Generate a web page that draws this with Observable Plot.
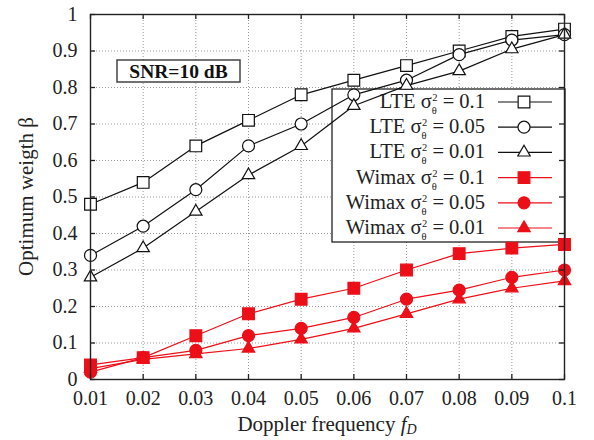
<!DOCTYPE html>
<html><head><meta charset="utf-8">
<script src="https://cdn.jsdelivr.net/npm/d3@7"></script>
<script src="https://cdn.jsdelivr.net/npm/@observablehq/plot@0.6"></script>
<style>body{margin:0;background:#fff} svg{font-family:"Liberation Serif",serif}</style>
</head><body><div id="chart"></div>
<script>
// Doppler frequency (x categories)
const fd = [0.01, 0.02, 0.03, 0.04, 0.05, 0.06, 0.07, 0.08, 0.09, 0.1];
// Optimum weight beta per series
const lte01    = [0.48, 0.54, 0.64, 0.71, 0.78, 0.82, 0.86, 0.90, 0.94, 0.96];
const lte005   = [0.34, 0.42, 0.52, 0.64, 0.70, 0.78, 0.82, 0.89, 0.93, 0.945];
const lte001   = [0.28, 0.36, 0.46, 0.56, 0.64, 0.75, 0.805, 0.845, 0.905, 0.945];
const wimax01  = [0.04, 0.06, 0.12, 0.18, 0.22, 0.25, 0.30, 0.345, 0.36, 0.37];
const wimax005 = [0.02, 0.06, 0.08, 0.12, 0.14, 0.17, 0.22, 0.245, 0.28, 0.30];
const wimax001 = [0.03, 0.055, 0.07, 0.085, 0.11, 0.14, 0.18, 0.22, 0.25, 0.27];
// tick labels
const xTicks = [0.01, 0.02, 0.03, 0.04, 0.05, 0.06, 0.07, 0.08, 0.09, 0.1];
const yTicks = [0, 0.1, 0.2, 0.3, 0.4, 0.5, 0.6, 0.7, 0.8, 0.9, 1];
const xTickLabels = ["0.01","0.02","0.03","0.04","0.05","0.06","0.07","0.08","0.09","0.1"];
const yTickLabels = ["0","0.1","0.2","0.3","0.4","0.5","0.6","0.7","0.8","0.9","1"];
const seriesNames = ["LTE","LTE","LTE","Wimax","Wimax","Wimax"];
const sigmaLabels = ["0.1","0.05","0.01","0.1","0.05","0.01"];
const xLabel = "Doppler frequency ";
const yLabel = "Optimum weigth β";
const boxLabel = "SNR=10 dB";

const RED = "#ec0f18";
const series = [
  {values: lte01,    color: "#111", symbol: "square",   fill: "white", r: 6.6},
  {values: lte005,   color: "#111", symbol: "circle",   fill: "white", r: 6},
  {values: lte001,   color: "#111", symbol: "triangle", fill: "white", r: 4.6},
  {values: wimax01,  color: RED,    symbol: "square",   fill: RED,     r: 6.6},
  {values: wimax005, color: RED,    symbol: "circle",   fill: RED,     r: 6},
  {values: wimax001, color: RED,    symbol: "triangle", fill: RED,     r: 4.6}
].map((s, i) => ({...s, name: seriesNames[i], s2: sigmaLabels[i]}));

const W = 594, H = 440, mL = 90, mR = 30, mT = 14, mB = 61;
const pw = W - mL - mR, ph = H - mT - mB;
const AX = "#222";

const marks = [
  Plot.gridX(xTicks, {stroke: "#999", strokeOpacity: 1, strokeWidth: 1, strokeDasharray: "1,2"}),
  Plot.gridY(yTicks, {stroke: "#999", strokeOpacity: 1, strokeWidth: 1, strokeDasharray: "1,2"})
];
for (const s of series) {
  marks.push(Plot.line(s.values, {x: (d, i) => fd[i], y: d => d, stroke: s.color, strokeWidth: 1.2}));
}
for (const s of series) {
  marks.push(Plot.dot(s.values, {x: (d, i) => fd[i], y: d => d, symbol: s.symbol, r: s.r,
    fill: s.fill, stroke: s.color, strokeWidth: 1.2}));
}
marks.push(
  Plot.frame({stroke: AX, strokeWidth: 1.4}),
  Plot.ruleX(xTicks, {x: d => d, insetTop: ph - 5, stroke: AX, strokeWidth: 1.3}),
  Plot.ruleX(xTicks, {x: d => d, insetBottom: ph - 5, stroke: AX, strokeWidth: 1.3}),
  Plot.ruleY(yTicks, {y: d => d, insetRight: pw - 5, stroke: AX, strokeWidth: 1.3}),
  Plot.ruleY(yTicks, {y: d => d, insetLeft: pw - 5, stroke: AX, strokeWidth: 1.3}),
  Plot.axisX(xTicks, {tickSize: 0, tickPadding: 11, label: null, fontSize: 20,
    tickFormat: d => xTickLabels[xTicks.indexOf(d)]}),
  Plot.axisY(yTicks, {tickSize: 0, tickPadding: 13, label: null, fontSize: 20,
    tickFormat: d => yTickLabels[yTicks.indexOf(d)]})
);

const plot = Plot.plot({
  width: W, height: H, marginLeft: mL, marginRight: mR, marginTop: mT, marginBottom: mB,
  style: {fontFamily: "Liberation Serif, serif", fontSize: "20px", background: "white", color: "#222"},
  x: {domain: [0.01, 0.1]},
  y: {domain: [0, 1]},
  marks
});
document.getElementById("chart").append(plot);

const svg = d3.select(plot);
// legend box, placed beneath data marks
const firstLine = plot.querySelector('g[aria-label="line"]');
const lgNode = document.createElementNS("http://www.w3.org/2000/svg", "g");
plot.insertBefore(lgNode, firstLine);
const L = d3.select(lgNode).attr("font-family", "Liberation Serif, serif").attr("fill", "#222");
L.append("rect").attr("x", 332).attr("y", 89).attr("width", 233).attr("height", 153)
  .attr("fill", "white").attr("stroke", AX).attr("stroke-width", 1.3);
series.forEach((s, i) => {
  const cy = 102 + i * 25.2;
  const t = L.append("text").attr("x", 485).attr("y", cy + 6).attr("text-anchor", "end")
    .attr("font-size", 20.5).style("white-space", "pre");
  t.append("tspan").text(s.name + " σ");
  t.append("tspan").attr("font-size", 10.5).attr("dy", -7).attr("dx", 0.5).text("2");
  t.append("tspan").attr("font-size", 10.5).attr("dx", -5.8).attr("dy", 13).text("θ");
  t.append("tspan").attr("dy", -6).attr("dx", 6).text("= " + s.s2);
  L.append("line").attr("x1", 498).attr("x2", 552).attr("y1", cy).attr("y2", cy)
    .attr("stroke", s.color).attr("stroke-width", 1.2);
  const sym = {square: d3.symbolSquare, circle: d3.symbolCircle, triangle: d3.symbolTriangle}[s.symbol];
  L.append("path").attr("transform", `translate(524,${cy})`)
    .attr("d", d3.symbol(sym, s.r * s.r * Math.PI)())
    .attr("fill", s.fill).attr("stroke", s.color).attr("stroke-width", 1.2);
});

// SNR box
const B = svg.append("g");
B.append("rect").attr("x", 117).attr("y", 60).attr("width", 123).attr("height", 22)
  .attr("fill", "white").attr("stroke", "#444").attr("stroke-width", 1.5);
B.append("text").attr("x", 178.5).attr("y", 77.5).attr("text-anchor", "middle")
  .attr("font-size", 19.5).attr("font-weight", "bold").attr("fill", "#111").text(boxLabel);

// axis labels
const xl = svg.append("text").attr("x", (mL + W - mR) / 2).attr("y", 431)
  .attr("text-anchor", "middle").attr("font-size", 21).attr("fill", "#222");
xl.append("tspan").text(xLabel);
xl.append("tspan").attr("font-style", "italic").text("f");
xl.append("tspan").attr("font-style", "italic").attr("font-size", 14).attr("dy", 3).text("D");
svg.append("text").attr("transform", `translate(33,${mT + ph / 2}) rotate(-90)`)
  .attr("text-anchor", "middle").attr("font-size", 21).attr("fill", "#222").text(yLabel);
</script>
</body></html>
